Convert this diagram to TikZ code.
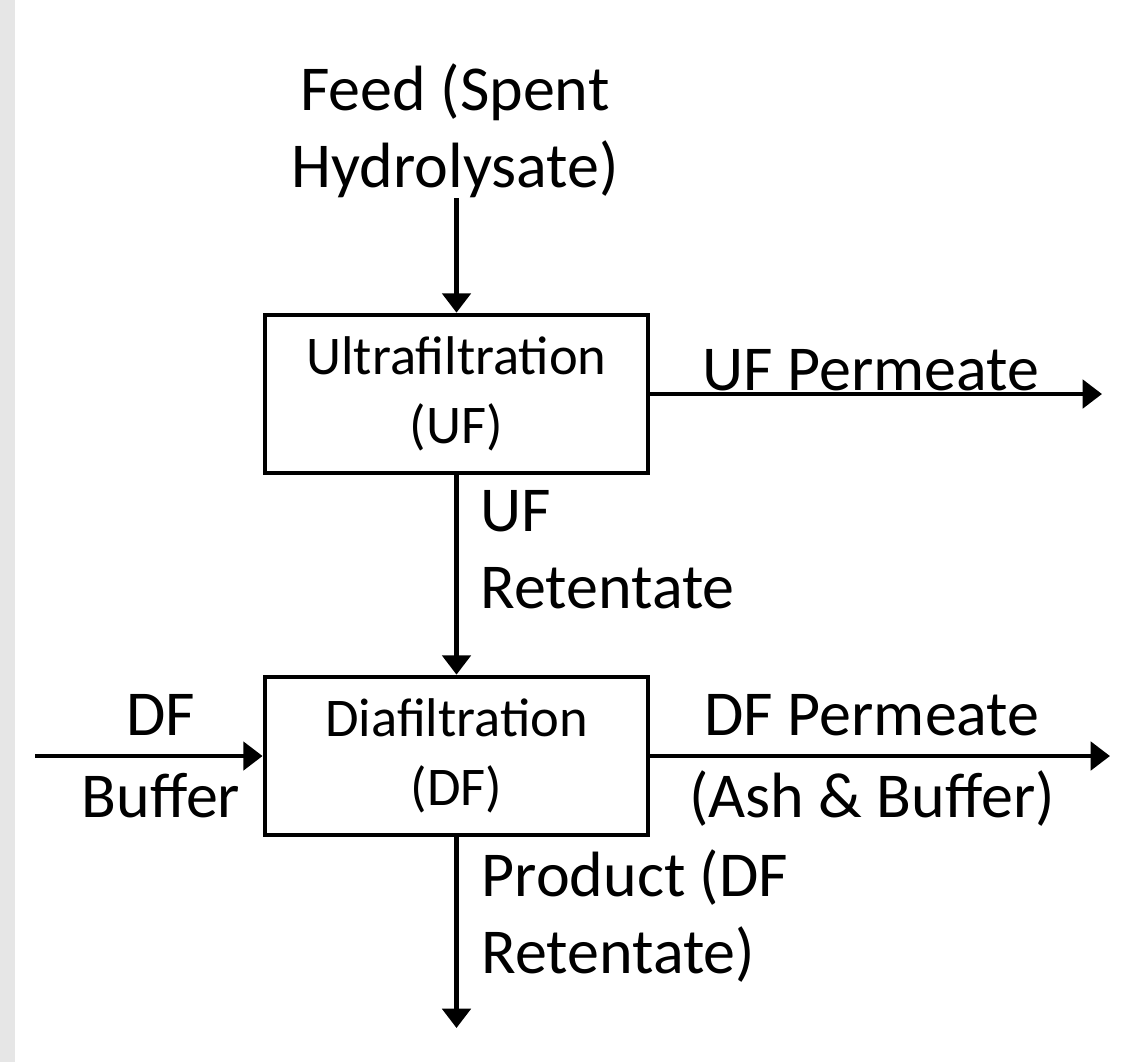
\documentclass[tikz,border=0pt]{standalone}
\usepackage{fontspec}
\setmainfont{Carlito}
\usepackage{xcolor}
\usetikzlibrary{arrows.meta, positioning}
\definecolor{strip}{HTML}{E6E6E6}

\tikzset{
  procbox/.style={draw, line width=1.3pt, minimum width=3.83cm, minimum height=1.58cm,
    align=center, inner sep=0pt, font=\fontsize{15.5}{19.6}\selectfont},
  streamlbl/.style={inner sep=0pt, font=\fontsize{18.2}{21.8}\selectfont},
  flow/.style={line width=1.3pt, -{Triangle[length=5.5pt, width=8pt]}}
}

\begin{document}
\begin{tikzpicture}[x=0.01cm, y=-0.01cm]
% page and grey strip at the left edge
\fill[white] (0,0) rectangle (1139,1062);
\fill[strip] (0,0) rectangle (15,1062);
\useasboundingbox (0,0) rectangle (1139,1062);

% units
\node[procbox] (uf) at (456.5,394) {Ultrafiltration\\(UF)};
\node[procbox] (df) at (456.5,756) {Diafiltration\\(DF)};

% stream labels (base = last line)
\node[streamlbl, align=center, anchor=base] (feed) at (455,187) {Feed (Spent\\Hydrolysate)};
\node[streamlbl, anchor=base] (ufperm) at (871,390) {UF Permeate};
\node[streamlbl, align=left, anchor=base west] (ufret) at (480,608) {UF\\Retentate};
\node[streamlbl, align=center, anchor=base, font=\fontsize{18.2}{23.3}\selectfont] (dfbuf) at (161,817) {DF\\Buffer};
\node[streamlbl, align=center, anchor=base, font=\fontsize{18.2}{23.3}\selectfont] (dfperm) at (872,817) {DF Permeate\\(Ash \& Buffer)};
\node[streamlbl, align=left, anchor=base west] (prod) at (481,973) {Product (DF\\Retentate)};

% free ends
\coordinate (ufend) at (1102,394);
\coordinate (bufstart) at (35,756);
\coordinate (dfend) at (1110,756);
\coordinate (prodend) at (456.5,1028);

% streams
\draw[flow] (feed.south -| uf.north) -- (uf.north);
\draw[flow] (uf.east) -- (uf.east -| ufend);
\draw[flow] (uf.south) -- (df.north);
\draw[flow] (bufstart) -- (df.west);
\draw[flow] (df.east) -- (df.east -| dfend);
\draw[flow] (df.south) -- (prodend);
\end{tikzpicture}
\end{document}
